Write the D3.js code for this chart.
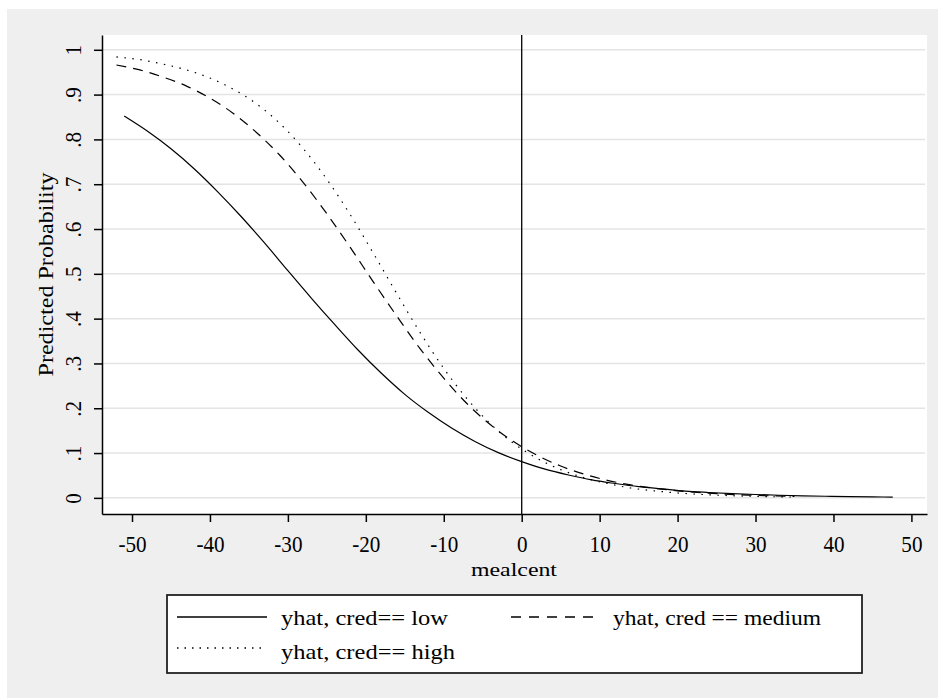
<!DOCTYPE html>
<html>
<head>
<meta charset="utf-8">
<script src="https://cdn.jsdelivr.net/npm/d3@7"></script>
<style>
  body { margin: 0; background: #ffffff; }
  svg text { font-family: "Liberation Serif", "Times New Roman", serif; fill: #000; }
</style>
</head>
<body>
<svg id="chart" width="938" height="698"></svg>
<script>
// values (mealcent vs predicted probability)
const lowX = [-51, -48, -45, -42, -39, -36, -33, -30, -27, -24, -21, -18, -15, -12, -9, -6, -3, 0,
  3, 6, 9, 12, 15, 18, 21, 24, 27, 30, 33, 36, 39, 42, 45, 47.6];
const lowY = [0.852, 0.818, 0.779, 0.734, 0.683, 0.628, 0.569, 0.507, 0.446, 0.387, 0.330, 0.278,
  0.231, 0.191, 0.156, 0.126, 0.101, 0.081, 0.064, 0.051, 0.040, 0.032, 0.025, 0.020, 0.015,
  0.012, 0.0095, 0.0075, 0.0059, 0.0046, 0.0036, 0.0028, 0.0022, 0.0018];

const medX = [-52, -49, -46, -43, -40, -37, -34, -31, -28, -25, -22, -19, -16, -13, -10, -7, -4, -1,
  2, 5, 8, 11, 14, 17, 20, 23, 26, 29, 32, 35];
const medY = [0.966, 0.955, 0.939, 0.919, 0.892, 0.858, 0.815, 0.764, 0.703, 0.634, 0.559, 0.481,
  0.405, 0.332, 0.267, 0.210, 0.163, 0.125, 0.095, 0.071, 0.053, 0.039, 0.029, 0.0215, 0.0158,
  0.0116, 0.0085, 0.0063, 0.0046, 0.0034];

const highX = [-52, -49, -46, -43, -40, -37, -34, -31, -28, -25, -22, -19, -16, -13, -10, -7, -4, -1,
  2, 5, 8, 11, 14, 17, 20, 23, 26, 29, 32, 35];
const highY = [0.984, 0.978, 0.968, 0.955, 0.937, 0.912, 0.879, 0.835, 0.779, 0.711, 0.632, 0.545,
  0.455, 0.368, 0.289, 0.221, 0.165, 0.121, 0.088, 0.063, 0.045, 0.032, 0.022, 0.0157, 0.011,
  0.0077, 0.0054, 0.0038, 0.0026, 0.0018];

const xTicks = [-50, -40, -30, -20, -10, 0, 10, 20, 30, 40, 50];
const yTicks = [0, 0.1, 0.2, 0.3, 0.4, 0.5, 0.6, 0.7, 0.8, 0.9, 1];
const yTickLabels = ["0", ".1", ".2", ".3", ".4", ".5", ".6", ".7", ".8", ".9", "1"];

const seriesNames = ["yhat, cred== low", "yhat, cred == medium", "yhat, cred== high"];
const dashes = [null, "10,7", "1.5,6.5"];
const legendDashes = [null, "10,8", "1.5,6"];

const svg = d3.select("#chart");

// outer grey panel
svg.append("rect")
  .attr("x", 7).attr("y", 9)
  .attr("width", 931).attr("height", 689)
  .attr("fill", "#efefef");

const plot = { left: 102, right: 927, top: 35, bottom: 514 };

svg.append("rect")
  .attr("x", plot.left).attr("y", plot.top)
  .attr("width", plot.right - plot.left).attr("height", plot.bottom - plot.top)
  .attr("fill", "#ffffff");

const x = d3.scaleLinear().domain([-53.85, 52]).range([plot.left, plot.right]);
const y = d3.scaleLinear().domain([-0.036, 1.033]).range([plot.bottom, plot.top]);

// gridlines
svg.append("g")
  .selectAll("line")
  .data(yTicks)
  .join("line")
  .attr("x1", plot.left).attr("x2", plot.right - 2)
  .attr("y1", d => y(d)).attr("y2", d => y(d))
  .attr("stroke", "#e4e4e4")
  .attr("stroke-width", 1.5);

// x axis (plain hyphen for negatives, like the original)
const xAxis = svg.append("g")
  .attr("transform", `translate(0,${plot.bottom})`)
  .call(d3.axisBottom(x).tickValues(xTicks).tickSize(8).tickSizeOuter(0)
    .tickFormat(d => String(d)));
xAxis.select(".domain").attr("stroke", "#000").attr("stroke-width", 1.5);
xAxis.selectAll(".tick line").attr("stroke", "#000").attr("stroke-width", 1.5);
xAxis.selectAll(".tick text")
  .attr("y", 38).attr("dy", null)
  .attr("transform", "scale(0.88,1)")
  .style("font-size", "24px");

// y axis, labels turned vertically
const yAxis = svg.append("g")
  .attr("transform", `translate(${plot.left},0)`)
  .call(d3.axisLeft(y).tickValues(yTicks).tickSize(8).tickSizeOuter(0)
    .tickFormat((d, i) => yTickLabels[i]));
yAxis.select(".domain").attr("stroke", "#000").attr("stroke-width", 1.5);
yAxis.selectAll(".tick line").attr("stroke", "#000").attr("stroke-width", 1.5);
yAxis.selectAll(".tick text")
  .attr("x", null).attr("dy", null)
  .attr("text-anchor", "middle")
  .attr("transform", "translate(-21.5,0) rotate(-90) scale(0.88,1)")
  .style("font-size", "24px");

// axis titles
svg.append("text")
  .attr("x", 471)
  .attr("y", 576)
  .attr("textLength", 86)
  .attr("lengthAdjust", "spacingAndGlyphs")
  .style("font-size", "19px")
  .text("mealcent");

svg.append("text")
  .attr("transform", `translate(53,${(plot.top + plot.bottom) / 2 + 102}) rotate(-90)`)
  .attr("textLength", 204)
  .attr("lengthAdjust", "spacingAndGlyphs")
  .style("font-size", "21px")
  .text("Predicted Probability");

// vertical reference line at 0
svg.append("line")
  .attr("x1", x(0)).attr("x2", x(0))
  .attr("y1", plot.top).attr("y2", plot.bottom)
  .attr("stroke", "#000").attr("stroke-width", 1.3);

// curves
const line = d3.line()
  .x(d => x(d[0]))
  .y(d => y(d[1]))
  .curve(d3.curveMonotoneX);

const series = [d3.zip(lowX, lowY), d3.zip(medX, medY), d3.zip(highX, highY)];

svg.append("g")
  .selectAll("path")
  .data(series)
  .join("path")
  .attr("d", line)
  .attr("fill", "none")
  .attr("stroke", "#000")
  .attr("stroke-width", 1.2)
  .attr("stroke-dasharray", (d, i) => dashes[i]);

// legend
const legend = svg.append("g");
legend.append("rect")
  .attr("x", 167).attr("y", 595)
  .attr("width", 695).attr("height", 78)
  .attr("fill", "#ffffff")
  .attr("stroke", "#222")
  .attr("stroke-width", 1.8);

const legendPos = [
  { sx: 177, sw: 90, ly: 617, tx: 281, ty: 625, tw: 167 },
  { sx: 511, sw: 88, ly: 617, tx: 613, ty: 625, tw: 208 },
  { sx: 177, sw: 88, ly: 648, tx: 281, ty: 659, tw: 174 }
];

const items = legend.selectAll("g.item")
  .data(seriesNames)
  .join("g")
  .attr("class", "item");

items.append("line")
  .attr("x1", (d, i) => legendPos[i].sx)
  .attr("x2", (d, i) => legendPos[i].sx + legendPos[i].sw)
  .attr("y1", (d, i) => legendPos[i].ly)
  .attr("y2", (d, i) => legendPos[i].ly)
  .attr("stroke", "#000")
  .attr("stroke-width", 1.3)
  .attr("stroke-dasharray", (d, i) => legendDashes[i]);

items.append("text")
  .attr("x", (d, i) => legendPos[i].tx)
  .attr("y", (d, i) => legendPos[i].ty)
  .attr("textLength", (d, i) => legendPos[i].tw)
  .attr("lengthAdjust", "spacingAndGlyphs")
  .style("font-size", "21px")
  .text(d => d);
</script>
</body>
</html>
